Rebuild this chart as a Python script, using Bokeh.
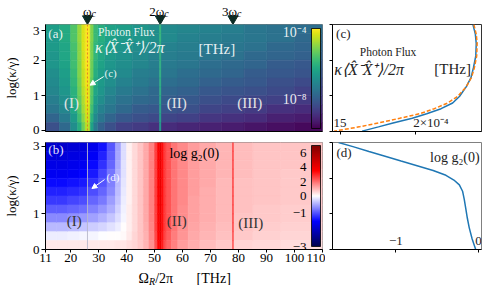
from bokeh.plotting import figure
from bokeh.models import (LinearColorMapper, ColorBar, FixedTicker, Label, Arrow,
                          NormalHead, Range1d, Span, ColumnDataSource, CustomJSTickFormatter)
from bokeh.layouts import row, column
from bokeh.palettes import Viridis256
from bokeh.transform import transform
from bokeh.embed import file_html
from bokeh.resources import INLINE

FONT = "Liberation Serif"

# ---------------- data ----------------
harmonic_x = [26, 52, 78]
harmonic_text = ["ω", "2ω", "3ω"]
kappa_ticks = [0, 1, 2, 3]
omega_ticks = [11, 20, 30, 40, 50, 60, 70, 80, 90, 100, 110]
row_edges = [3.0, 2.75, 2.5, 2.25, 2.0, 1.75, 1.5, 1.25, 1.0, 0.75, 0.5, 0.25, 0.0]

# panel (a): log10 photon flux, one list per column (top -> bottom)
flux_x_edges = [11, 16, 20, 22.5, 24, 25, 27, 28, 29.5, 32, 36, 42, 48, 51.8, 52.2,
                58, 66, 74, 82, 90, 100, 110]
flux_log10 = [
    [-6.4, -6.5, -6.5, -6.6, -6.6, -6.8, -6.9, -7.0, -7.2, -7.4, -7.8, -8.3],
    [-6.1, -6.1, -6.2, -6.2, -6.3, -6.4, -6.5, -6.6, -6.8, -7.0, -7.3, -7.7],
    [-5.4, -5.4, -5.5, -5.6, -5.6, -5.7, -5.8, -5.9, -6.0, -6.2, -6.5, -6.8],
    [-4.7, -4.7, -4.8, -4.8, -4.9, -4.9, -5.0, -5.1, -5.2, -5.4, -5.6, -6.0],
    [-4.1, -4.1, -4.1, -4.2, -4.2, -4.3, -4.3, -4.4, -4.5, -4.6, -4.8, -5.1],
    [-3.8, -3.8, -3.8, -3.8, -3.8, -3.9, -3.9, -4.0, -4.0, -4.1, -4.2, -4.4],
    [-4.9, -4.9, -5.0, -5.0, -5.1, -5.1, -5.2, -5.3, -5.4, -5.6, -5.9, -6.3],
    [-5.7, -5.7, -5.8, -5.8, -5.9, -6.0, -6.1, -6.2, -6.4, -6.6, -6.9, -7.3],
    [-6.0, -6.0, -6.1, -6.2, -6.3, -6.4, -6.5, -6.6, -6.8, -7.1, -7.4, -7.9],
    [-6.3, -6.3, -6.4, -6.5, -6.6, -6.7, -6.8, -7.0, -7.2, -7.4, -7.8, -8.3],
    [-6.4, -6.5, -6.6, -6.7, -6.8, -6.9, -7.1, -7.3, -7.5, -7.7, -8.1, -8.6],
    [-6.6, -6.6, -6.8, -6.9, -7.0, -7.2, -7.3, -7.5, -7.7, -8.0, -8.3, -8.7],
    [-6.8, -6.8, -6.9, -7.1, -7.2, -7.3, -7.5, -7.7, -7.8, -8.1, -8.4, -8.9],
    [-5.8, -5.8, -5.9, -5.9, -5.9, -5.9, -6.0, -6.0, -6.1, -6.2, -6.3, -6.5],
    [-6.9, -6.9, -7.1, -7.2, -7.3, -7.4, -7.6, -7.8, -8.0, -8.2, -8.5, -9.0],
    [-7.0, -7.1, -7.2, -7.3, -7.4, -7.6, -7.7, -7.9, -8.1, -8.3, -8.6, -9.1],
    [-7.1, -7.2, -7.3, -7.4, -7.6, -7.7, -7.9, -8.1, -8.3, -8.5, -8.8, -9.2],
    [-7.2, -7.3, -7.4, -7.5, -7.7, -7.8, -8.0, -8.2, -8.4, -8.6, -8.9, -9.3],
    [-7.4, -7.4, -7.5, -7.7, -7.8, -8.0, -8.1, -8.3, -8.5, -8.7, -9.0, -9.4],
    [-7.5, -7.5, -7.7, -7.8, -8.0, -8.1, -8.3, -8.4, -8.6, -8.9, -9.2, -9.5],
    [-7.6, -7.7, -7.8, -7.9, -8.1, -8.2, -8.4, -8.6, -8.7, -9.0, -9.3, -9.6],
]
flux_log_low, flux_log_high = -9.75, -3.77
flux_cbar_ticks = [-8, -4]
flux_cbar_labels = ["10⁻⁸", "10⁻⁴"]

# panel (b): log g2(0), one list per column (top -> bottom)
g2_x_edges = [11, 15, 19, 23, 26, 30, 33, 36, 38, 40, 42, 44, 46, 48, 50, 51, 51.7, 52.5,
              53, 54, 56, 58, 62, 66, 72, 77.85, 78.15, 85, 95, 110]
log_g2 = [
    [-1.9, -1.8, -1.7, -1.6, -1.45, -1.3, -1.15, -0.95, -0.7, -0.4, -0.1, 0.3],
    [-1.9, -1.8, -1.7, -1.6, -1.45, -1.3, -1.15, -0.95, -0.7, -0.4, -0.1, 0.3],
    [-1.85, -1.75, -1.65, -1.55, -1.4, -1.25, -1.1, -0.9, -0.65, -0.38, -0.08, 0.3],
    [-1.8, -1.7, -1.6, -1.5, -1.35, -1.2, -1.05, -0.85, -0.6, -0.35, -0.06, 0.3],
    [-1.65, -1.55, -1.45, -1.35, -1.2, -1.05, -0.9, -0.75, -0.55, -0.3, -0.05, 0.3],
    [-1.4, -1.3, -1.2, -1.1, -1.0, -0.9, -0.78, -0.62, -0.45, -0.25, -0.02, 0.3],
    [-1.0, -0.95, -0.9, -0.82, -0.75, -0.68, -0.58, -0.48, -0.35, -0.18, 0.02, 0.32],
    [-0.55, -0.52, -0.5, -0.46, -0.42, -0.38, -0.33, -0.27, -0.2, -0.1, 0.05, 0.35],
    [-0.2, -0.19, -0.18, -0.17, -0.15, -0.13, -0.11, -0.08, -0.05, 0.0, 0.1, 0.38],
    [0.2, 0.2, 0.2, 0.2, 0.2, 0.2, 0.21, 0.22, 0.24, 0.27, 0.32, 0.45],
    [0.5, 0.5, 0.5, 0.5, 0.5, 0.5, 0.5, 0.5, 0.52, 0.54, 0.56, 0.6],
    [0.8, 0.8, 0.8, 0.8, 0.8, 0.8, 0.8, 0.8, 0.8, 0.8, 0.78, 0.75],
    [1.15, 1.15, 1.15, 1.15, 1.15, 1.15, 1.15, 1.15, 1.15, 1.1, 1.05, 1.0],
    [1.7, 1.7, 1.7, 1.7, 1.7, 1.7, 1.7, 1.7, 1.7, 1.65, 1.6, 1.5],
    [2.6, 2.6, 2.6, 2.6, 2.6, 2.6, 2.6, 2.6, 2.6, 2.6, 2.5, 2.4],
    [3.6, 3.6, 3.6, 3.6, 3.6, 3.6, 3.6, 3.6, 3.6, 3.6, 3.5, 3.4],
    [4.1, 4.1, 4.1, 4.1, 4.1, 4.1, 4.1, 4.1, 4.1, 4.1, 4.0, 3.9],
    [3.3, 3.3, 3.3, 3.3, 3.3, 3.3, 3.3, 3.3, 3.3, 3.3, 3.2, 3.1],
    [2.7, 2.7, 2.7, 2.7, 2.7, 2.7, 2.7, 2.7, 2.7, 2.7, 2.6, 2.5],
    [2.3, 2.3, 2.3, 2.3, 2.3, 2.3, 2.3, 2.3, 2.3, 2.3, 2.2, 2.1],
    [1.9, 1.9, 1.9, 1.9, 1.9, 1.9, 1.9, 1.9, 1.9, 1.9, 1.8, 1.7],
    [1.6, 1.6, 1.6, 1.6, 1.6, 1.6, 1.6, 1.55, 1.55, 1.5, 1.45, 1.35],
    [1.35, 1.35, 1.35, 1.35, 1.35, 1.35, 1.3, 1.3, 1.3, 1.25, 1.2, 1.1],
    [1.15, 1.15, 1.15, 1.15, 1.15, 1.1, 1.1, 1.1, 1.1, 1.05, 1.0, 0.9],
    [1.0, 1.0, 1.0, 1.0, 0.98, 0.97, 0.96, 0.95, 0.93, 0.9, 0.85, 0.75],
    [2.6, 2.6, 2.6, 2.6, 2.6, 2.6, 2.6, 2.6, 2.6, 2.6, 2.5, 2.4],
    [0.9, 0.9, 0.9, 0.88, 0.87, 0.86, 0.85, 0.84, 0.82, 0.78, 0.72, 0.6],
    [0.82, 0.82, 0.82, 0.8, 0.8, 0.79, 0.78, 0.76, 0.74, 0.7, 0.64, 0.52],
    [0.78, 0.78, 0.77, 0.76, 0.75, 0.74, 0.73, 0.71, 0.69, 0.65, 0.58, 0.48],
]
g2_low, g2_center, g2_high = -3, 0, 7
g2_cbar_ticks = [-3, -1, 0, 2, 4, 6]

# panel (c): cut at omega_c, photon flux vs log(kappa/gamma)
kappa_c = [3.0, 2.73, 2.47, 2.12, 1.78, 1.51, 1.25, 0.98, 0.80, 0.64, 0.50, 0.37, 0.24, 0.13, 0.01]
flux_full = [2.385e-4, 2.401e-4, 2.407e-4, 2.404e-4, 2.388e-4, 2.372e-4, 2.340e-4, 2.295e-4,
             2.250e-4, 2.173e-4, 2.077e-4, 1.981e-4, 1.853e-4, 1.756e-4, 1.647e-4]
flux_approx = [2.391e-4, 2.407e-4, 2.413e-4, 2.410e-4, 2.394e-4, 2.375e-4, 2.340e-4, 2.282e-4,
               2.218e-4, 2.128e-4, 2.032e-4, 1.897e-4, 1.756e-4, 1.628e-4, 1.460e-4]
flux_c_ticks = [1.5e-4, 2.0e-4]

# panel (d): cut at omega_c, log g2(0) vs log(kappa/gamma)
kappa_d = [3.0, 2.885, 2.75, 2.617, 2.483, 2.349, 2.215, 2.081, 1.947, 1.813, 1.634, 1.411,
           1.143, 0.876, 0.608, 0.295, 0.0]
g2_cut = [-1.694, -1.52, -1.326, -1.131, -0.938, -0.744, -0.55, -0.395, -0.299, -0.233,
          -0.194, -0.174, -0.155, -0.136, -0.113, -0.078, -0.035]
g2_d_ticks = [-1, 0]

# ---------------- helpers ----------------
def seismic(n=256):
    anchors = [(0.0, (0, 0, 0.3)), (0.25, (0, 0, 1)), (0.5, (1, 1, 1)),
               (0.75, (1, 0, 0)), (1.0, (0.5, 0, 0))]
    out = []
    for k in range(n):
        f = k / (n - 1)
        for (f0, c0), (f1, c1) in zip(anchors, anchors[1:]):
            if f <= f1 + 1e-12:
                w = (f - f0) / (f1 - f0)
                rgb = [c0[m] + w * (c1[m] - c0[m]) for m in range(3)]
                break
        out.append("#%02x%02x%02x" % tuple(int(round(255 * c)) for c in rgb))
    return out


def grid_source(x_edges, cols, norm=None):
    cells = []
    for i, col in enumerate(cols):
        for j, val in enumerate(col):
            cells.append((x_edges[i], x_edges[i + 1], row_edges[j], row_edges[j + 1], val))
    cells.sort(key=lambda c: -(c[1] - c[0]))  # narrow lines drawn last
    d = dict(left=[c[0] for c in cells], right=[c[1] for c in cells],
             top=[c[2] for c in cells], bottom=[c[3] for c in cells],
             v=[c[4] for c in cells])
    if norm is not None:
        d["t"] = [norm(v) for v in d["v"]]
    return ColumnDataSource(d)


def g2_norm(v):
    return v / (g2_center - g2_low) if v < g2_center else v / (g2_high - g2_center)


EMPTY = CustomJSTickFormatter(code="return ''")


def style(p):
    p.grid.visible = False
    p.outline_line_color = "#808080"
    p.background_fill_color = "white"
    p.border_fill_color = "white"
    for ax in p.axis:
        ax.axis_line_color = "black"
        ax.major_tick_line_color = "black"
        ax.minor_tick_line_color = None
        ax.major_tick_in = 0
        ax.major_tick_out = 4
        ax.major_label_text_font = FONT
        ax.major_label_text_font_size = "13px"
        ax.major_label_text_color = "black"
        ax.major_label_standoff = 2
        ax.axis_label_text_font = FONT
        ax.axis_label_text_font_size = "13px"
        ax.axis_label_text_font_style = "normal"
        ax.axis_label_text_color = "black"


def lab(p, x, y, text, size=13, color="black", align="left", baseline="middle",
        fstyle="normal", alpha=1.0, xo=0, yo=0):
    p.add_layout(Label(x=x, y=y, text=text, text_font=FONT, text_font_size=f"{size}px",
                       text_color=color, text_align=align, text_baseline=baseline,
                       text_font_style=fstyle, text_alpha=alpha, x_offset=xo, y_offset=yo))


common = dict(output_backend="svg", toolbar_location=None)
xr = Range1d(11, 110)
LW, RW = 325, 158
LB, RBL = 44, 3          # left-column borders
FW = LW - LB - RBL       # 278
FRAME_H = 107
TOP_H, GAP_A, GAP_B, BOT_B, TITLE_H = 24, 6, 5, 21, 15
CB_X, CB_Y, CB_W = 266, 3, 9
CBA_H, CBB_H = 100, 101

# ---------------- top strip with harmonics ----------------
ftop = figure(width=LW, height=TOP_H, x_range=xr, y_range=Range1d(0, 1),
              x_axis_location=None, y_axis_location=None,
              min_border_left=LB, min_border_right=RBL, min_border_top=0, min_border_bottom=0,
              **common)
ftop.grid.visible = False
ftop.outline_line_color = None
ftop.scatter(harmonic_x, [0.24] * len(harmonic_x), marker="inverted_triangle", size=10,
             fill_color="#0c2b24", line_color="#0c2b24")
for hx, ht in zip(harmonic_x, harmonic_text):
    lab(ftop, hx, 0.54, ht, size=13, align="right", baseline="alphabetic", xo=4)
    lab(ftop, hx, 0.44, "c", size=10, align="left", baseline="alphabetic", fstyle="italic", xo=4)

# ---------------- panel (a) ----------------
fa = figure(width=LW, height=FRAME_H + GAP_A, x_range=xr, y_range=Range1d(0, 3),
            min_border_left=LB, min_border_right=RBL, min_border_top=0, min_border_bottom=GAP_A,
            **common)
map_a = LinearColorMapper(palette=Viridis256, low=flux_log_low, high=flux_log_high)
src_a = grid_source(flux_x_edges, flux_log10)
fa.quad(left="left", right="right", top="top", bottom="bottom", source=src_a,
        fill_color=transform("v", map_a), line_color=transform("v", map_a), line_width=0.6)
style(fa)
fa.yaxis.ticker = FixedTicker(ticks=[0.04, 1, 2, 2.82])
fa.yaxis.formatter = CustomJSTickFormatter(code="return Math.round(tick).toFixed(0)")
fa.yaxis.axis_label = "log(κ/γ)"
fa.yaxis.axis_label_standoff = 11
fa.xaxis.ticker = FixedTicker(ticks=[])
fa.xaxis.formatter = EMPTY
fa.add_layout(Span(location=harmonic_x[0], dimension="height", line_color="#e06a2a",
                   line_dash="2 2", line_width=1, line_alpha=0.8))
cba = ColorBar(color_mapper=map_a, location=(CB_X, CB_Y), width=CB_W, height=CBA_H, padding=0,
               margin=0, ticker=FixedTicker(ticks=flux_cbar_ticks), formatter=EMPTY,
               major_tick_line_color=None,
               bar_line_color="black", bar_line_width=0.8, background_fill_alpha=0,
               border_line_color=None, label_standoff=0)
fa.add_layout(cba, "center")
cb_lab_x = 11 + (CB_X - 4) / FW * 99
for tv, tl in zip(flux_cbar_ticks, flux_cbar_labels):
    ypx = CB_Y + (tv - flux_log_low) / (flux_log_high - flux_log_low) * CBA_H
    lab(fa, cb_lab_x, ypx / FRAME_H * 3, tl, size=14, color="white", align="right", alpha=0.9)

W = "white"
lab(fa, 12.0, 2.76, "(a)", size=13, color=W, alpha=0.9)
lab(fa, 39.9, 2.79, "Photon Flux", size=11.5, color=W, align="center", alpha=0.9)
lab(fa, 28.65, 2.36, "κ⟨X̂⁻X̂⁺⟩/2π", size=16, color=W, fstyle="italic", alpha=0.9)
lab(fa, 65.7, 2.30, "[THz]", size=15, color=W, alpha=0.9)
lab(fa, 32.1, 1.65, "(c)", size=11, color=W, alpha=0.9)
fa.add_layout(Arrow(end=NormalHead(size=5, fill_color=W, line_color=W), x_start=31.8,
                    y_start=1.54, x_end=26.9, y_end=1.30, line_color=W, line_width=1))
for xx, tt in [(17.6, "(I)"), (54.3, "(II)"), (79.5, "(III)")]:
    lab(fa, xx, 0.80, tt, size=15, color="#e4e4e4")

# ---------------- panel (b) ----------------
fb = figure(width=LW, height=GAP_B + FRAME_H + BOT_B, x_range=xr, y_range=Range1d(0, 3),
            min_border_left=LB, min_border_right=RBL, min_border_top=GAP_B,
            min_border_bottom=BOT_B, **common)
map_b = LinearColorMapper(palette=seismic(), low=-1, high=1)
src_b = grid_source(g2_x_edges, log_g2, norm=g2_norm)
fb.quad(left="left", right="right", top="top", bottom="bottom", source=src_b,
        fill_color=transform("t", map_b), line_color=transform("t", map_b), line_width=0.6)
style(fb)
fb.yaxis.ticker = FixedTicker(ticks=[0, 1, 2, 2.9])
fb.yaxis.formatter = CustomJSTickFormatter(code="return Math.round(tick).toFixed(0)")
fb.yaxis.axis_label = "log(κ/γ)"
fb.yaxis.axis_label_standoff = 11
fb.xaxis.ticker = FixedTicker(ticks=omega_ticks)
fb.xaxis.major_tick_out = 3
fb.xaxis.major_label_standoff = 1
fb.add_layout(Span(location=harmonic_x[0], dimension="height", line_color="#b8b8cc",
                   line_width=1, line_alpha=0.9))
cbb = ColorBar(color_mapper=map_b, location=(CB_X, CB_Y), width=CB_W, height=CBB_H, padding=0,
               margin=0, ticker=FixedTicker(ticks=[g2_norm(v) for v in g2_cbar_ticks]),
               formatter=EMPTY, major_tick_line_color=None,
               bar_line_color="black", bar_line_width=0.8, background_fill_alpha=0,
               border_line_color=None, label_standoff=0)
fb.add_layout(cbb, "center")
for tv in g2_cbar_ticks:
    ypx = CB_Y + (g2_norm(tv) + 1) / 2 * CBB_H
    txt = ("−%d" % -tv) if tv < 0 else str(tv)
    lab(fb, cb_lab_x, ypx / FRAME_H * 3, txt, size=13, align="right")

lab(fb, 12.0, 2.79, "(b)", size=13, color=W, alpha=0.9)
lab(fb, 32.8, 2.04, "(d)", size=11, color=W, alpha=0.9)
fb.add_layout(Arrow(end=NormalHead(size=5, fill_color=W, line_color=W), x_start=32.1,
                    y_start=1.96, x_end=27.6, y_end=1.71, line_color=W, line_width=1))
for xx, yy, tt in [(18.6, 0.80, "(I)"), (54.3, 0.80, "(II)"), (79.9, 0.75, "(III)")]:
    lab(fb, xx, yy, tt, size=15, color="#333333")
lab(fb, 55.3, 2.68, "log g₂(0)", size=14)

# ---------------- x-axis title strip ----------------
fbot = figure(width=LW, height=TITLE_H, x_range=xr, y_range=Range1d(0, 1),
              x_axis_location=None, y_axis_location=None,
              min_border_left=LB, min_border_right=RBL, min_border_top=0, min_border_bottom=0,
              **common)
fbot.grid.visible = False
fbot.outline_line_color = None
lab(fbot, 44.2, 0.5, "Ω", size=14)
lab(fbot, 48.0, 0.3, "R", size=10, fstyle="italic")
lab(fbot, 50.2, 0.5, "/2π", size=14)
lab(fbot, 65.0, 0.5, "[THz]", size=14)

# ---------------- panel (c) ----------------
fc = figure(width=RW, height=TOP_H + FRAME_H + GAP_A, x_range=Range1d(1.45e-4, 2.442e-4),
            y_range=Range1d(0, 3), min_border_left=7, min_border_right=2,
            min_border_top=TOP_H, min_border_bottom=GAP_A, **common)
fc.line(flux_full, kappa_c, line_color="#1f77b4", line_width=1.5)
fc.line(flux_approx, kappa_c, line_color="#ff7f0e", line_width=1.5, line_dash="4 2")
style(fc)
fc.outline_line_color = "#333333"
fc.yaxis.ticker = FixedTicker(ticks=kappa_ticks)
fc.xaxis.ticker = FixedTicker(ticks=flux_c_ticks)
for ax in fc.axis:
    ax.formatter = EMPTY
    ax.major_tick_out = 3
    ax.major_label_standoff = 0
D = "#222222"
lab(fc, 1.474e-4, 2.76, "(c)", size=13, color=D)
lab(fc, 1.82e-4, 2.23, "Photon Flux", size=11.5, color=D, align="center")
lab(fc, 1.4615e-4, 1.75, "κ⟨X̂⁻X̂⁺⟩/2π", size=16, color=D, fstyle="italic")
lab(fc, 2.372e-4, 1.75, "[THz]", size=15, color=D, align="right")
lab(fc, flux_c_ticks[0], 0.24, "15", size=13, color=D, align="center")
lab(fc, 1.987e-4, 0.24, "2×10⁻⁴", size=13, color=D)

# ---------------- panel (d) ----------------
fd = figure(width=RW, height=GAP_B + FRAME_H + BOT_B + TITLE_H, x_range=Range1d(-1.767, 0.035),
            y_range=Range1d(0, 3), min_border_left=7, min_border_right=2,
            min_border_top=GAP_B, min_border_bottom=BOT_B + TITLE_H, **common)
fd.line(g2_cut, kappa_d, line_color="#1f77b4", line_width=1.5)
style(fd)
fd.yaxis.ticker = FixedTicker(ticks=kappa_ticks)
fd.xaxis.ticker = FixedTicker(ticks=g2_d_ticks)
for ax in fd.axis:
    ax.formatter = EMPTY
    ax.major_tick_out = 3
    ax.major_label_standoff = 0
lab(fd, -1.72, 2.71, "(d)", size=13, color=D)
lab(fd, 0.012, 2.57, "log g₂(0)", size=14, color=D, align="right")
lab(fd, g2_d_ticks[0], 0.24, "−1", size=13, color=D, align="center")
lab(fd, g2_d_ticks[1], 0.24, "0", size=13, color=D, align="center")

layout = row(column(ftop, fa, fb, fbot), column(fc, fd))
open("out.html", "w").write(file_html(layout, INLINE))
